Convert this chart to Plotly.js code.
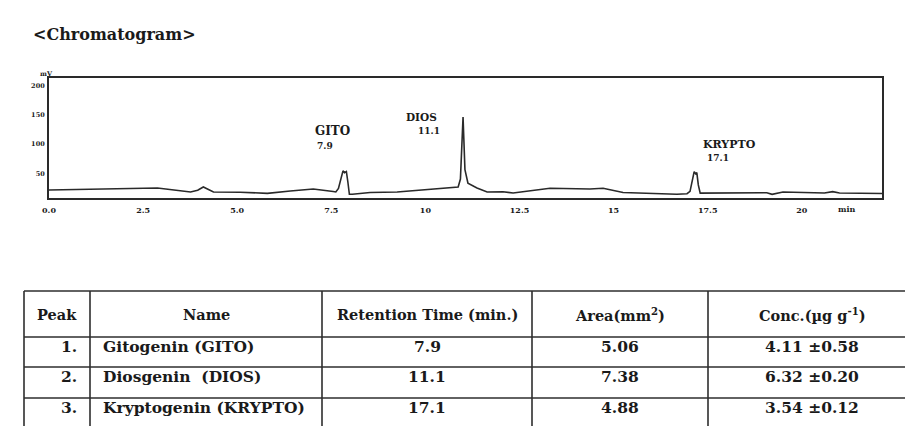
<!DOCTYPE html>
<html>
<head>
<meta charset="utf-8">
<script src="https://cdn.plot.ly/plotly-3.0.1.min.js"></script>
<style>html,body{margin:0;padding:0;background:#fff;}#chart{width:905px;height:426px;}</style>
</head>
<body>
<div id="chart"></div>
<script>
// ---- chromatogram data (time in min, signal in mV) ----
const time = [0.0, 1.82, 2.88, 3.76, 3.95, 4.10, 4.25, 4.37, 5.08, 5.80, 6.41, 7.02, 7.55,
  7.62, 7.69, 7.75, 7.81, 7.85, 7.90, 7.94, 7.98, 8.06, 8.53, 9.25, 10.13, 10.87,
  10.93, 10.97, 11.00, 11.02, 11.05, 11.13, 11.37, 11.64, 12.06, 12.33, 13.31, 13.66,
  14.37, 14.72, 15.25, 16.68, 16.95, 17.03, 17.09, 17.14, 17.18, 17.21, 17.25, 17.30,
  19.07, 19.21, 19.50, 20.60, 20.82, 21.00, 22.13];
const signal = [21.3, 24.2, 24.7, 17.9, 21, 26.5, 21, 17.9, 17.4, 15.6, 19.6, 23.0, 18.7,
  18, 24, 42, 54, 51, 53, 35, 14, 13.9, 17.0, 17.9, 23.0, 26.5,
  40, 120, 146, 110, 56, 33, 24.7, 17.9, 18.4, 16.2, 24.2, 23.9,
  23.0, 24.2, 17.0, 13.9, 15, 19, 38, 52.7, 49, 51, 30, 16,
  16.7, 13.9, 17.9, 16.2, 18.5, 16.2, 15.3];

const xTickVals = [0, 2.5, 5, 7.5, 10, 12.5, 15, 17.5, 20];
const xTickText = ["0.0", "2.5", "5.0", "7.5", "10", "12.5", "15", "17.5", "20"];
const yTickVals = [50, 100, 150, 200];
const yTickText = ["50", "100", "150", "200"];

// peak labels
const peakNames = ["GITO", "DIOS", "KRYPTO"];
const peakTimes = ["7.9", "11.1", "17.1"];

// ---- table data ----
const tableHeaders = ["Peak", "Name", "Retention Time (min.)", "Area(mm<sup>2</sup>)", "Conc.(µg g<sup>-1</sup>)"];
const tablePeak = ["1.", "2.", "3."];
const tableName = ["Gitogenin (GITO)", "Diosgenin&nbsp; (DIOS)", "Kryptogenin (KRYPTO)"];
const tableRT = ["7.9", "11.1", "17.1"];
const tableArea = ["5.06", "7.38", "4.88"];
const tableConc = ["4.11 ±0.58", "6.32 ±0.20", "3.54 ±0.12"];

const W = 905, H = 426;
const px = v => v / W, py = v => 1 - v / H;
const SERIF = "DejaVu Serif, Liberation Serif, serif";
const INK = "#1a1a1a";
const RULE = "#2e2e2e";
const bold = (s) => ({family: SERIF, size: s, color: INK, weight: "bold"});

const traces = [{
  type: "scatter", mode: "lines", x: time, y: signal,
  line: {color: "#2a2a2a", width: 1.6, shape: "linear"},
  hoverinfo: "skip", showlegend: false
}];

const annotations = [
  {text: peakNames[0], x: 7.015, y: 122.7, xref: "x", yref: "y", xanchor: "left", yanchor: "middle", showarrow: false, font: bold(12)},
  {text: peakTimes[0], x: 7.07, y: 96.9, xref: "x", yref: "y", xanchor: "left", yanchor: "middle", showarrow: false, font: bold(9)},
  {text: peakNames[1], x: 10.35, y: 147, xref: "x", yref: "y", xanchor: "right", yanchor: "middle", showarrow: false, font: bold(10.5)},
  {text: peakTimes[1], x: 10.44, y: 122.7, xref: "x", yref: "y", xanchor: "right", yanchor: "middle", showarrow: false, font: bold(9)},
  {text: peakNames[2], x: 17.31, y: 98.6, xref: "x", yref: "y", xanchor: "left", yanchor: "middle", showarrow: false, font: bold(11)},
  {text: peakTimes[2], x: 17.43, y: 76.8, xref: "x", yref: "y", xanchor: "left", yanchor: "middle", showarrow: false, font: bold(9)},
  {text: "mV", x: px(46), y: py(74), xref: "paper", yref: "paper", xanchor: "center", yanchor: "middle", showarrow: false, font: bold(6.5)},
  {text: "min", x: px(847), y: py(209), xref: "paper", yref: "paper", xanchor: "center", yanchor: "middle", showarrow: false, font: bold(8)}
];

// ---- table geometry (pixels) ----
const colEdges = [24, 90, 322, 532, 708, 916];
const rowEdges = [291, 337, 367, 398, 429];
const headerY = 314;
const rowTextY = [346, 376, 407];
const shapes = [];
rowEdges.slice(0, 4).forEach(yy => shapes.push({
  type: "line", xref: "paper", yref: "paper",
  x0: px(colEdges[0]), x1: px(colEdges[5]), y0: py(yy), y1: py(yy),
  line: {color: RULE, width: 1.6}
}));
colEdges.forEach(xx => shapes.push({
  type: "line", xref: "paper", yref: "paper",
  x0: px(xx), x1: px(xx), y0: py(rowEdges[0]), y1: py(rowEdges[4]),
  line: {color: RULE, width: 1.6}
}));

const colCenter = i => (colEdges[i] + colEdges[i + 1]) / 2;
tableHeaders.forEach((h, i) => annotations.push({
  text: h, x: px(colCenter(i)), y: py(headerY), xref: "paper", yref: "paper",
  xanchor: "center", yanchor: "middle", showarrow: false, font: bold(14.5)
}));
const bodyCols = [tablePeak, tableName, tableRT, tableArea, tableConc];
bodyCols.forEach((col, i) => col.forEach((v, r) => {
  let x, anchor;
  if (i === 0) { x = colEdges[1] - 11; anchor = "right"; }
  else if (i === 1) { x = colEdges[1] + 11; anchor = "left"; }
  else { x = colCenter(i); anchor = "center"; }
  annotations.push({
    text: v, x: px(x), y: py(rowTextY[r]), xref: "paper", yref: "paper",
    xanchor: anchor, yanchor: "middle", showarrow: false, font: bold(15.5)
  });
}));

const layout = {
  width: W, height: H,
  margin: {l: 0, r: 0, t: 0, b: 0},
  paper_bgcolor: "#ffffff", plot_bgcolor: "#ffffff",
  showlegend: false,
  title: {
    text: "&lt;Chromatogram&gt;",
    xref: "container", yref: "container",
    x: px(33), xanchor: "left", y: py(34), yanchor: "middle",
    font: {family: SERIF, size: 16, color: INK, weight: "bold"}
  },
  xaxis: {
    domain: [px(49), px(882)],
    range: [0, 22.13],
    tickmode: "array", tickvals: xTickVals, ticktext: xTickText,
    tickfont: bold(8),
    ticks: "", showgrid: false, zeroline: false,
    showline: true, mirror: true, linecolor: "#2a2a2a", linewidth: 2,
    ticklabelstandoff: 3
  },
  yaxis: {
    domain: [py(198), py(78)],
    range: [7.6, 213],
    tickmode: "array", tickvals: yTickVals, ticktext: yTickText,
    tickfont: bold(6.5),
    ticks: "", showgrid: false, zeroline: false,
    showline: true, mirror: true, linecolor: "#2a2a2a", linewidth: 2,
    ticklabelstandoff: 1
  },
  shapes: shapes,
  annotations: annotations
};

Plotly.newPlot("chart", traces, layout, {staticPlot: true, displayModeBar: false});
</script>
</body>
</html>
